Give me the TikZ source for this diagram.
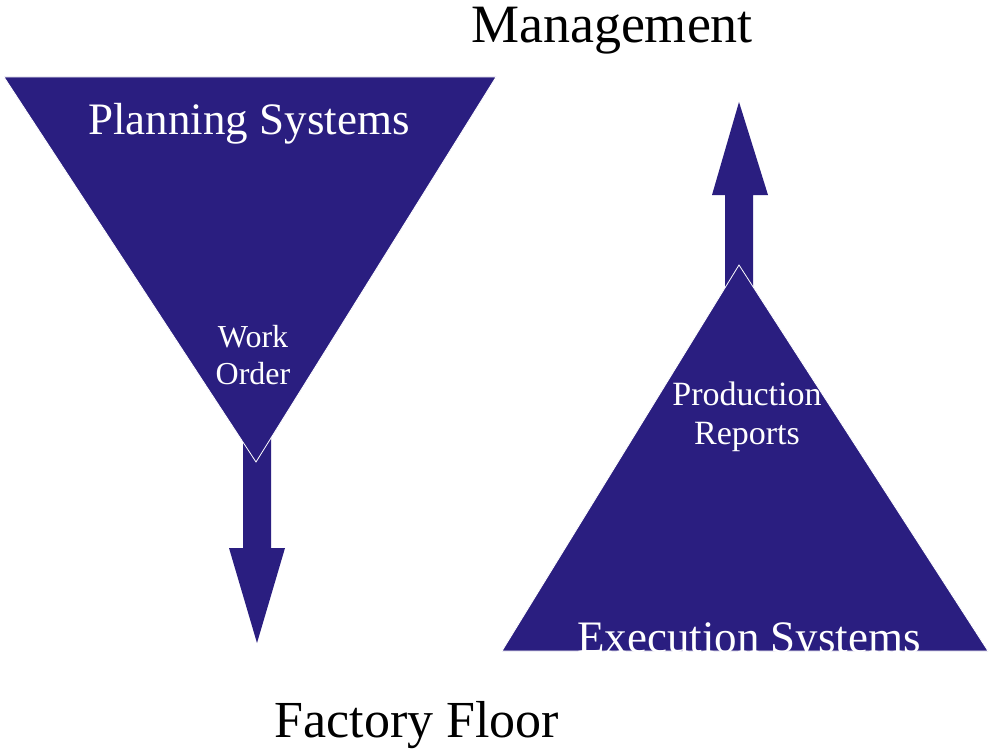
\documentclass[tikz,border=0pt]{standalone}
\usepackage{fontspec}
\setmainfont{Liberation Serif}
\definecolor{navy}{RGB}{42,30,128}
\begin{document}
\begin{tikzpicture}[x=1pt,y=-1pt,
  shapefill/.style={fill=navy,draw=white,line width=0.8pt},
  arrowfill/.style={fill=navy,draw=none},
  bigtext/.style={anchor=base,inner sep=0pt,text=black},
  boxtext/.style={anchor=base,inner sep=0pt,text=white}]
\useasboundingbox (0,0) rectangle (992,749);
\fill[white] (0,0) rectangle (992,749);
% down arrow (Work Order)
\fill[arrowfill] (243,430) -- (271,430) -- (271,548) -- (285,548) -- (257,643) -- (229,548) -- (243,548) -- cycle;
% up arrow (Production Reports)
\fill[arrowfill] (725,290) -- (753,290) -- (753,195) -- (768,195) -- (739,102) -- (712,195) -- (725,195) -- cycle;
% triangles
\draw[shapefill] (4,77) -- (496,77) -- (256,462) -- cycle;
\draw[shapefill] (502,651) -- (988,651) -- (739,265) -- cycle;
% texts
\node[bigtext,font=\fontsize{54}{60}\selectfont] (mgmt) at (612,43) {Management};
\node[bigtext,font=\fontsize{52}{58}\selectfont] (floor) at (417,737) {Factory Floor};
\node[boxtext,font=\fontsize{45}{50}\selectfont] (plan) at (249,135) {Planning Systems};
\node[boxtext,font=\fontsize{45}{50}\selectfont] (exec) at (749,652) {Execution Systems};
\node[boxtext,font=\fontsize{32}{36}\selectfont] (work) at (253,347) {Work};
\node[boxtext,font=\fontsize{32}{36}\selectfont] (order) at (253,384) {Order};
\node[boxtext,font=\fontsize{34}{38}\selectfont] (prod) at (747,405) {Production};
\node[boxtext,font=\fontsize{34}{38}\selectfont] (rep) at (747,444) {Reports};
\end{tikzpicture}
\end{document}
